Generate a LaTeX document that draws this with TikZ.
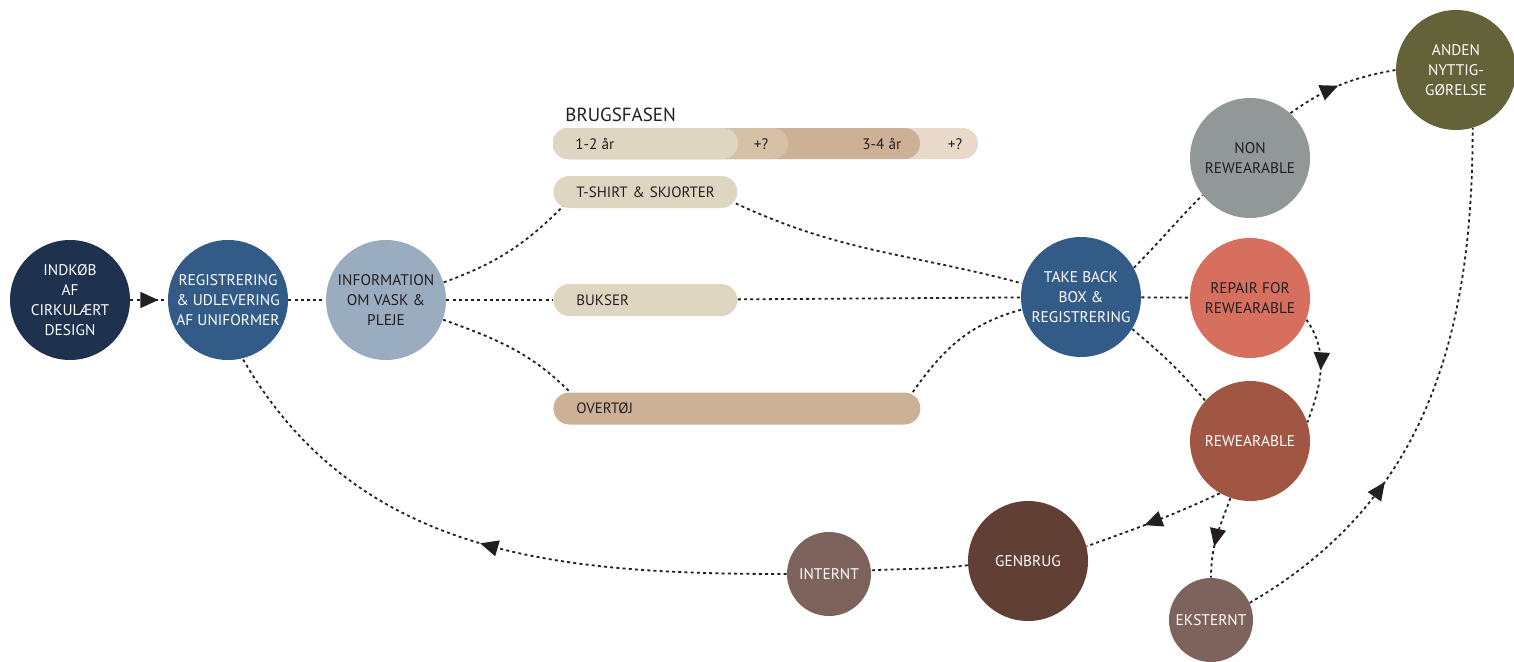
\documentclass[tikz,border=0pt]{standalone}
\usepackage{fontspec}
\setmainfont{PT Sans}
\usetikzlibrary{arrows.meta,decorations.markings}
\definecolor{Ink}{RGB}{35,31,32}
\definecolor{Navy}{RGB}{30,50,80}
\definecolor{Blue}{RGB}{51,91,135}
\definecolor{Grayblue}{RGB}{154,173,192}
\definecolor{Stone}{RGB}{146,151,152}
\definecolor{Coral}{RGB}{214,111,94}
\definecolor{Rust}{RGB}{160,86,66}
\definecolor{Olive}{RGB}{99,98,57}
\definecolor{Umber}{RGB}{98,63,52}
\definecolor{Taupe}{RGB}{125,99,91}
\definecolor{Sand}{RGB}{223,214,194}
\definecolor{Sandmid}{RGB}{214,193,167}
\definecolor{Tan}{RGB}{205,177,151}
\definecolor{Blush}{RGB}{232,217,201}

\tikzset{
  stage/.style={circle,inner sep=0pt,minimum size=60pt,align=center,text=white,
    font=\fontsize{7.7}{10}\selectfont},
  smallstage/.style={stage,minimum size=42pt},
  garment/.style={rectangle,rounded corners=8pt,minimum height=16pt,inner xsep=6pt,
    align=left,anchor=west,text=Ink,font=\fontsize{7.5}{10}\selectfont,
    execute at begin node=\hspace*{5.5pt}},
  barlabel/.style={inner sep=0pt,text=Ink,font=\fontsize{7.6}{10}\selectfont},
  flow/.style={draw=Ink,line width=0.9pt,dash pattern=on 1.5pt off 1.6pt},
  midarrow/.style={postaction={decorate,decoration={markings,
    mark=at position #1 with {\arrow[fill=Ink]{Triangle[length=9pt,width=8pt]}}}}},
}

\begin{document}
\begin{tikzpicture}[x=0.5pt,y=0.5pt]
\path[use as bounding box] (0,0) rectangle (1514,661);
\fill[Blush,rounded corners=7.75pt] (553,502) rectangle (978,533);
\fill[Tan,rounded corners=7.75pt] (553,502) rectangle (920,533);
\fill[Sandmid,rounded corners=7.75pt] (553,502) rectangle (788,533);
\fill[Sand,rounded corners=7.75pt] (553,502) rectangle (738,533);
\node[anchor=base west,inner sep=0pt,text=Ink,font=\fontsize{9.5}{11}\selectfont] (fase) at (565,540) {BRUGSFASEN};
\node[barlabel,anchor=west] (aar1) at (575,517) {1-2 år};
\node[barlabel] (plus1) at (761,517) {+?};
\node[barlabel,anchor=west] (aar2) at (862,517) {3-4 år};
\node[barlabel] (plus2) at (955,517) {+?};
\node[garment,fill=Sand,text width=80pt] (tshirt) at (553,469) {T-SHIRT \& SKJORTER};
\node[garment,fill=Sand,text width=80pt] (bukser) at (553,361) {BUKSER};
\node[garment,fill=Tan,text width=171.5pt] (overtoj) at (553,252.5) {OVERTØJ};
\node[stage,fill=Navy] (indkob) at (70,361) {INDKØB\\AF\\CIRKULÆRT\\DESIGN};
\node[stage,fill=Blue] (regist) at (228,361) {REGISTRERING\\\& UDLEVERING\\AF UNIFORMER};
\node[stage,fill=Grayblue,text=Ink] (info) at (386,361) {INFORMATION\\OM VASK \&\\PLEJE};
\node[stage,fill=Blue] (takeback) at (1081,364) {TAKE BACK\\BOX \&\\REGISTRERING};
\node[stage,fill=Stone,text=Ink] (nonrew) at (1250,503) {NON\\REWEARABLE};
\node[stage,fill=Coral,text=Ink] (repair) at (1250,363) {REPAIR FOR\\REWEARABLE};
\node[stage,fill=Rust] (rewear) at (1250,220) {REWEARABLE};
\node[stage,fill=Olive] (anden) at (1456,591) {ANDEN\\NYTTIG-\\GØRELSE};
\node[stage,fill=Umber] (genbrug) at (1028,100) {GENBRUG};
\node[smallstage,fill=Taupe] (internt) at (829,87) {INTERNT};
\node[smallstage,fill=Taupe] (eksternt) at (1211,41) {EKSTERNT};
\draw[flow,midarrow=0.75] (indkob) -- (regist);
\draw[flow] (regist) -- (info);
\draw[flow] (info.17) to[out=20,in=225] ([xshift=5pt,yshift=1pt]tshirt.south west);
\draw[flow] (info) -- (bukser);
\draw[flow] (info.-19) to[out=-20,in=135] ([xshift=8.5pt]overtoj.north west);
\draw[flow] ([xshift=-1pt,yshift=2.5pt]tshirt.south east) to[out=-25,in=165] (takeback.167);
\draw[flow] (bukser) -- (takeback);
\draw[flow] ([xshift=-4pt]overtoj.north east) to[out=55,in=195] (takeback.192);
\draw[flow] (takeback.29) to[out=45,in=225] (nonrew.218);
\draw[flow] (takeback) -- (repair);
\draw[flow] (takeback.-32) to[out=-40,in=130] (rewear.138);
\draw[flow,midarrow=0.48] (nonrew.48) to[out=35,in=190] (anden.180);
\draw[flow,midarrow=0.33] (eksternt.24) to[out=30,in=-90] (anden.-74);
\draw[flow,midarrow=0.5] (repair.-21) to[out=-55,in=70] (rewear.18);
\draw[flow,midarrow=0.57] (rewear.240) to[out=205,in=20] (genbrug.14);
\draw[flow,midarrow=0.62] (rewear.251) to[out=250,in=90] (eksternt.90);
\draw[flow] (genbrug.184) to[out=187,in=3] (internt.5);
\draw[flow,midarrow=0.5] (internt.180) to[out=180,in=-60] (regist.-76);
\end{tikzpicture}
\end{document}
